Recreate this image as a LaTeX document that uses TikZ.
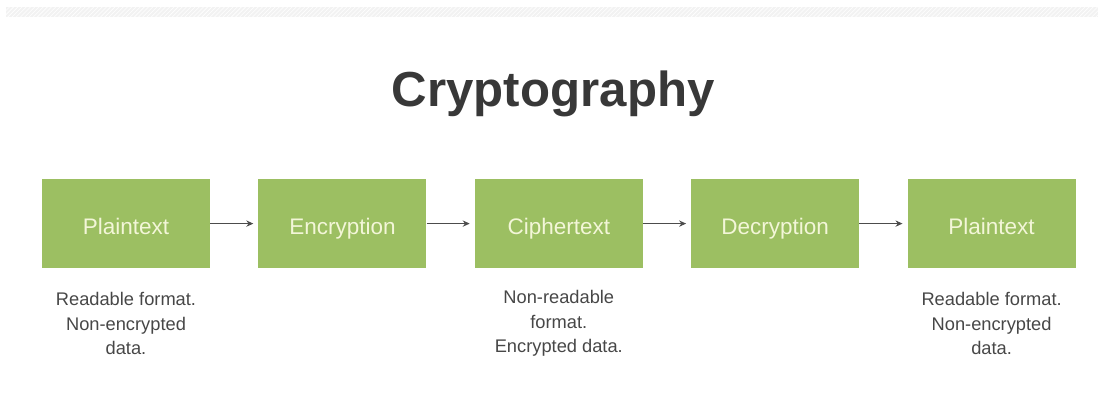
\documentclass[tikz,border=0pt]{standalone}
\usepackage{fontspec}
\setmainfont{Liberation Sans}
\usetikzlibrary{positioning, patterns, arrows.meta}
\definecolor{boxgreen}{HTML}{9CBF62}
\definecolor{boxtext}{HTML}{F3F6D8}
\definecolor{titlegray}{HTML}{383838}
\definecolor{notegray}{HTML}{474747}

\begin{document}
\begin{tikzpicture}[
    node distance=5.41cm,
    on grid,
    stage/.style={rectangle, fill=boxgreen, minimum width=4.2cm, minimum height=2.225cm,
                  text=boxtext, text height=16.5pt, text depth=0.5pt,
                  font=\fontsize{16}{19}\selectfont},
    note/.style={align=center, text=notegray, font=\fontsize{13}{17.4}\selectfont},
    flow/.style={->, >={Stealth[length=5pt, width=4.5pt]}, line width=0.7pt,
                 draw=gray!60!black, shorten >=0.12cm}
]
   \useasboundingbox (0,0) rectangle (27.6,-9.9);

   % faint striped band on top
   \fill[gray!10] (0.15,-0.17) rectangle (27.45,-0.42);
   \path[pattern=north east lines, pattern color=white] (0.15,-0.17) rectangle (27.45,-0.42);

   % Title
   \node[text=titlegray, font=\bfseries\fontsize{35}{40}\selectfont] (title) at (13.83,-2.35) {Cryptography};

   % Stages
   \node[stage] (plain1) at (3.15,-5.59) {Plaintext};
   \node[stage] (enc) [right=of plain1] {Encryption};
   \node[stage] (cipher) [right=of enc] {Ciphertext};
   \node[stage] (dec) [right=of cipher] {Decryption};
   \node[stage] (plain2) [right=of dec] {Plaintext};

   % Notes under the boxes
   \node[note] (note1) [below=2.5cm of plain1] {Readable format.\\Non-encrypted\\data.};
   \node[note] (note3) [below=2.5cm of cipher] {Non-readable\\format.\\Encrypted data.};
   \node[note] (note5) [below=2.5cm of plain2] {Readable format.\\Non-encrypted\\data.};

   % Arrows
   \draw[flow] (plain1) -- (enc);
   \draw[flow] (enc) -- (cipher);
   \draw[flow] (cipher) -- (dec);
   \draw[flow] (dec) -- (plain2);
\end{tikzpicture}
\end{document}
